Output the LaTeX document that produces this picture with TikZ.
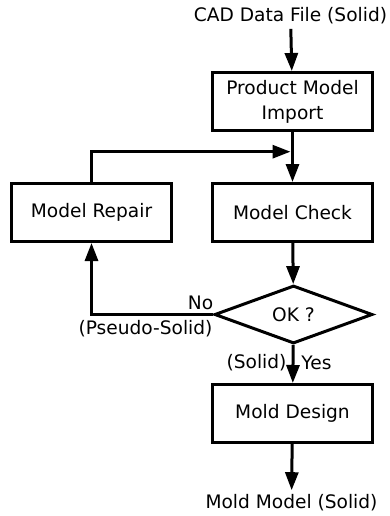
\documentclass[tikz,border=0pt]{standalone}
\usepackage{fontspec}
\setmainfont{DejaVu Sans}
\usetikzlibrary{arrows.meta,shapes.geometric}

\begin{document}
\begin{tikzpicture}[x=1pt,y=-1pt,line width=3pt,-{Triangle[length=18pt,width=13pt]},
  font=\fontsize{18.6}{25}\selectfont,
  proc/.style={draw,minimum width=160pt,minimum height=58pt,align=center,inner sep=0pt},
  dec/.style={draw,diamond,aspect=2.7,minimum width=158pt,minimum height=58pt,inner sep=0pt},
  lbl/.style={inner sep=3pt}]
\useasboundingbox (0,0) rectangle (390,516);

\node[lbl] (CAD) at (290.5,16) {CAD Data File (Solid)};

\node[proc] (PMI) at (292.5,101.5) {Product Model\\Import};
\coordinate (J) at (292.5,151.7);

\node[proc] (MR) at (91.5,212.5) {Model Repair};
\node[proc] (MC) at (292.5,212.5) {Model Check};

\node[dec] (OK) at (293.5,314.5) {OK ?};
\node[lbl] (NO) at (200.5,303) {No};
\node[lbl] (PS) at (145.5,329) {(Pseudo-Solid)};
\node[lbl] (SO) at (256.5,363) {(Solid)};
\node[lbl] (YS) at (316.5,363) {Yes};

\node[proc] (MD) at (292.5,413.5) {Mold Design};

\node[lbl] (MM) at (291.5,503) {Mold Model (Solid)};

\draw (CAD) -- (PMI);
\draw (PMI) -- (MC);
\draw[shorten >=2pt] (MR.north) |- (J);
\draw (MC) -- (OK);
\draw (OK.west) -| (MR.south);
\draw (OK) -- (MD);
\draw (MD) -- (MM);

\end{tikzpicture}
\end{document}
